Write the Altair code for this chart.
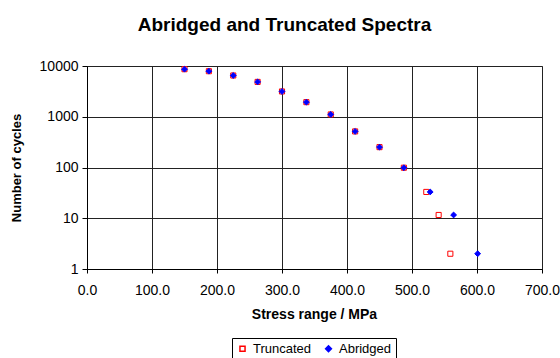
import altair as alt
import pandas as pd

# Stress range (MPa) and number of cycles for each spectrum
stress_abridged = [150, 187.5, 225, 262.5, 300, 337.5, 375, 412.5, 450, 487.5, 528, 564, 601]
cycles_abridged = [8650, 7900, 6500, 4860, 3150, 1940, 1110, 514, 252, 99, 33, 11.6, 2]

stress_truncated = [150, 187.5, 225, 262.5, 300, 337.5, 375, 412.5, 450, 487.5, 522, 541, 559]
cycles_truncated = [8650, 7900, 6500, 4860, 3150, 1940, 1110, 514, 252, 99, 33, 11.6, 2]

series_names = ["Truncated", "Abridged"]
x_ticks = [0, 100, 200, 300, 400, 500, 600, 700]
y_ticks = [1, 10, 100, 1000, 10000]

FONT = "Liberation Sans"

# Truncated rows first so the abridged diamonds sit on top
df = pd.concat(
    [
        pd.DataFrame({"stress": stress_truncated, "cycles": cycles_truncated, "series": "Truncated"}),
        pd.DataFrame({"stress": stress_abridged, "cycles": cycles_abridged, "series": "Abridged"}),
    ],
    ignore_index=True,
)

legend = alt.Legend(
    orient="none",
    legendX=145,
    legendY=272,
    direction="horizontal",
    title=None,
    strokeColor="black",
    padding=4,
    labelFont=FONT,
    labelFontSize=13,
    labelColor="black",
    labelOffset=4,
    columnPadding=10,
)

points = (
    alt.Chart(df)
    .mark_point(filled=True, opacity=1, strokeWidth=1)
    .encode(
        x=alt.X(
            "stress:Q",
            scale=alt.Scale(domain=[0, 700], nice=False),
            axis=alt.Axis(
                values=x_ticks,
                format=".1f",
                title="Stress range / MPa",
                titleFontSize=14,
                titleX=227,
                titleY=49,
                titleBaseline="alphabetic",
                labelBaseline="alphabetic",
                labelFlush=False,
                labelOverlap=False,
                labelPadding=21,
                tickSize=4,
            ),
        ),
        y=alt.Y(
            "cycles:Q",
            scale=alt.Scale(type="log", domain=[1, 10000], nice=False),
            axis=alt.Axis(
                values=y_ticks,
                format="d",
                title="Number of cycles",
                titleX=-64,
                titleY=101.5,
                titleBaseline="bottom",
                labelFlush=False,
                labelOverlap=False,
                labelPadding=4,
                tickSize=5,
            ),
        ),
        shape=alt.Shape(
            "series:N",
            scale=alt.Scale(domain=series_names, range=["square", "diamond"]),
            legend=legend,
        ),
        fill=alt.Fill(
            "series:N",
            scale=alt.Scale(domain=series_names, range=["white", "#0000FF"]),
            legend=legend,
        ),
        stroke=alt.Stroke(
            "series:N",
            scale=alt.Scale(domain=series_names, range=["#FF0000", "#0000FF"]),
            legend=legend,
        ),
        size=alt.Size(
            "series:N",
            scale=alt.Scale(domain=series_names, range=[26, 34]),
            legend=legend,
        ),
    )
)

chart = (
    points.properties(
        width=455,
        height=203,
        background="white",
        autosize=alt.AutoSizeParams(type="none"),
        padding={"left": 87, "top": 66, "right": 18, "bottom": 89},
        title=alt.TitleParams(
            "Abridged and Truncated Spectra",
            font=FONT,
            fontSize=19,
            fontWeight="bold",
            color="black",
            anchor="middle",
            dx=-30,
            offset=9,
            baseline="alphabetic",
        ),
    )
    .configure_view(stroke="#808080", strokeWidth=1)
    .configure_axis(
        labelFont=FONT,
        labelFontSize=14,
        labelColor="black",
        titleFont=FONT,
        titleFontSize=13,
        titleFontWeight="bold",
        titleColor="black",
        domainColor="black",
        tickColor="black",
        gridColor="#222222",
        gridOpacity=1,
        grid=True,
    )
)

chart.save("out.html", embed_options={"renderer": "svg", "actions": False})
